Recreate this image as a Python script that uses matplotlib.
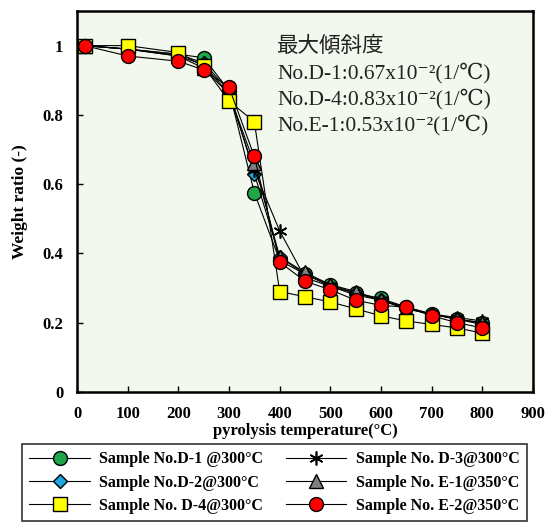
import matplotlib.pyplot as plt
import numpy as np

# Weight ratio vs pyrolysis temperature for six samples
temps = [15, 100, 200, 250, 300, 350, 400, 450, 500, 550, 600, 650, 700, 750, 800]

d1 = [1.0, 0.99, 0.975, 0.965, 0.87, 0.575, 0.38, 0.34, 0.31, 0.285, 0.27, 0.245, 0.225, 0.21, 0.20]
d2 = [1.0, 0.99, 0.975, 0.95, 0.87, 0.63, 0.39, 0.34, 0.305, 0.285, 0.265, 0.24, 0.225, 0.21, 0.195]
d3 = [1.0, 0.99, 0.97, 0.945, 0.86, 0.64, 0.465, 0.33, 0.305, 0.28, 0.265, 0.245, 0.225, 0.215, 0.205]
d4 = [1.0, 1.0, 0.98, 0.94, 0.84, 0.78, 0.29, 0.275, 0.26, 0.24, 0.22, 0.205, 0.195, 0.185, 0.17]
e1 = [1.0, 0.99, 0.97, 0.935, 0.86, 0.66, 0.39, 0.345, 0.31, 0.29, 0.265, 0.24, 0.225, 0.21, 0.20]
e2 = [1.0, 0.97, 0.955, 0.93, 0.88, 0.68, 0.375, 0.32, 0.295, 0.265, 0.25, 0.245, 0.22, 0.20, 0.185]

labels = ["Sample No.D-1 @300°C", "Sample No.D-2@300°C", "Sample No. D-3@300°C",
          "Sample No. E-1@350°C", "Sample No. D-4@300°C", "Sample No. E-2@350°C"]

note_lines = ["最大傾斜度",
              "No.D-1:0.67x10⁻²(1/℃)",
              "No.D-4:0.83x10⁻²(1/℃)",
              "No.E-1:0.53x10⁻²(1/℃)"]

serif = ['Liberation Serif', 'DejaVu Serif', 'Noto Sans CJK JP']

fig = plt.figure(figsize=(5.47, 5.23), dpi=100)
ax = fig.add_axes([0.1408, 0.2505, 0.8336, 0.7285])
ax.set_facecolor('#f3f8ee')

styles = [
    (d1, dict(marker='o', mfc='#1fa64a', ms=10)),
    (d2, dict(marker='D', mfc='#1ea7e1', ms=7.5)),
    (d3, dict(marker=(6, 2, 0), mfc='black', ms=10, mew=1.2)),
    (e1, dict(marker='^', mfc='#808080', ms=10)),
    (d4, dict(marker='s', mfc='#ffff00', ms=10)),
    (e2, dict(marker='o', mfc='#ff0000', ms=10)),
]
handles = []
for (vals, st), lab in zip(styles, labels):
    h, = ax.plot(temps, vals, color='black', lw=0.8, mec='black', label=lab, **st)
    handles.append(h)

ax.set_xlim(0, 900)
ax.set_ylim(0, 1.1)
ax.set_xticks(np.arange(0, 901, 100))
ax.set_yticks([0, 0.2, 0.4, 0.6, 0.8, 1.0])
ax.set_yticklabels(['0', '0.2', '0.4', '0.6', '0.8', '1'])
ax.tick_params(direction='in', length=4, width=1, labelsize=12, pad=10)
for lab in ax.get_xticklabels() + ax.get_yticklabels():
    lab.set_fontfamily(serif)
    lab.set_fontweight('bold')
for sp in ax.spines.values():
    sp.set_linewidth(1.8)

ax.set_xlabel("pyrolysis temperature(°C)", family=serif, fontweight='bold', fontsize=12, labelpad=1)
ax.set_ylabel("Weight ratio (-)", family=serif, fontweight='bold', fontsize=12.5, labelpad=10)

for i, line in enumerate(note_lines):
    ax.text(0.439, 0.905 - i * 0.0685, line, transform=ax.transAxes, family=serif,
            fontsize=15.5, color='#222222', va='center', ha='left')

order = [0, 1, 4, 2, 3, 5]
leg = fig.legend([handles[i] for i in order], [labels[i] for i in order], ncol=2,
                 loc='lower left', bbox_to_anchor=(0.0402, 0.004, 0.923, 0.15), mode='expand',
                 borderaxespad=0,
                 prop=dict(family=serif, weight='bold', size=11.5), handlelength=3.8,
                 frameon=True, fancybox=False, edgecolor='black', borderpad=0.45,
                 labelspacing=0.45, columnspacing=0.3, handletextpad=0.6)
leg.get_frame().set_linewidth(1.2)

fig.savefig('out.png', dpi=100)
